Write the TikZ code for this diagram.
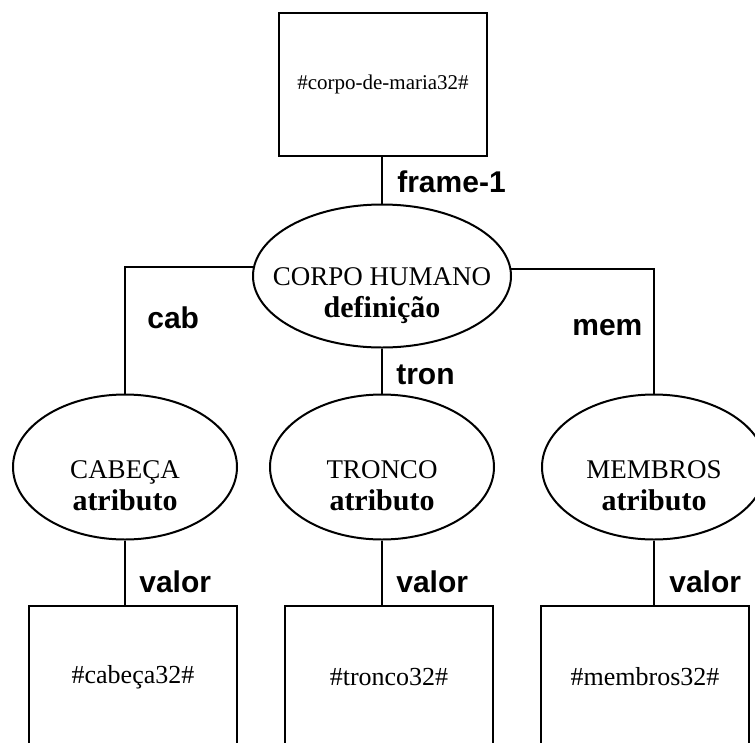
\documentclass[tikz,border=0pt]{standalone}
\usepackage{fontspec}
\setmainfont{Liberation Serif}
\setsansfont{Liberation Sans}
\usetikzlibrary{shapes.geometric}

\newcommand{\kind}[1]{{\fontsize{30}{32}\selectfont\bfseries #1}}

\begin{document}
\begin{tikzpicture}[x=1pt, y=-1pt, line width=2pt,
    frm/.style={draw, rectangle, minimum width=208pt, minimum height=143pt, inner sep=0pt},
    slot/.style={draw, ellipse, minimum width=224pt, minimum height=145pt, inner sep=0pt},
    slottxt/.style={align=center, font=\fontsize{27}{32}\selectfont},
    lbl/.style={anchor=base west, font=\sffamily\bfseries\fontsize{30}{36}\selectfont},
  ]
  \clip (0,0) rectangle (755,742);

  % frame and its definition
  \node[frm, font=\fontsize{21}{25}\selectfont] (corpomaria) at (383,84) {\#corpo-de-maria32\#};
  \node[slot, minimum width=258pt, minimum height=143pt] (corpo) at (382,276) {};
  \node[slottxt] (corpotxt) at ([yshift=-20pt]corpo.center) {CORPO HUMANO\\\kind{definição}};

  % attributes
  \node[slot] (cab)  at (125,467) {};
  \node[slot] (tron) at (382,467) {};
  \node[slot] (mem)  at (654,467) {};
  \node[slottxt] (cabtxt)  at ([yshift=-19pt]cab.center)  {CABEÇA\\\kind{atributo}};
  \node[slottxt] (trontxt) at ([yshift=-19pt]tron.center) {TRONCO\\\kind{atributo}};
  \node[slottxt] (memtxt)  at ([yshift=-19pt]mem.center)  {MEMBROS\\\kind{atributo}};

  % values
  \node[frm, font=\fontsize{26}{31}\selectfont] (boxcab)  at (133,677) {\#cabeça32\#};
  \node[frm, font=\fontsize{26}{31}\selectfont] (boxtron) at (389,677) {\#tronco32\#};
  \node[frm, font=\fontsize{26}{31}\selectfont] (boxmem)  at (645,677) {\#membros32\#};

  \draw (corpo.north) -- (corpo.north |- corpomaria.south);
  \draw (corpo.176.5) -| (cab.north);
  \draw (corpo.3.5) -| (mem.north);
  \draw (corpo.south) -- (tron.north);
  \foreach \s in {cab,tron,mem}
    \draw (\s.south) -- (\s.south |- box\s.north);

  % link labels
  \node[lbl] (lframe) at (393,192) {frame-1};
  \node[lbl] (lcab)   at (143,328) {cab};
  \node[lbl] (ltron)  at (392,384) {tron};
  \node[lbl] (lmem)   at (568,335) {mem};
  \node[lbl] (lvcab)  at (135,592) {valor};
  \node[lbl] (lvtron) at (392,592) {valor};
  \node[lbl] (lvmem)  at (665,592) {valor};
\end{tikzpicture}
\end{document}
